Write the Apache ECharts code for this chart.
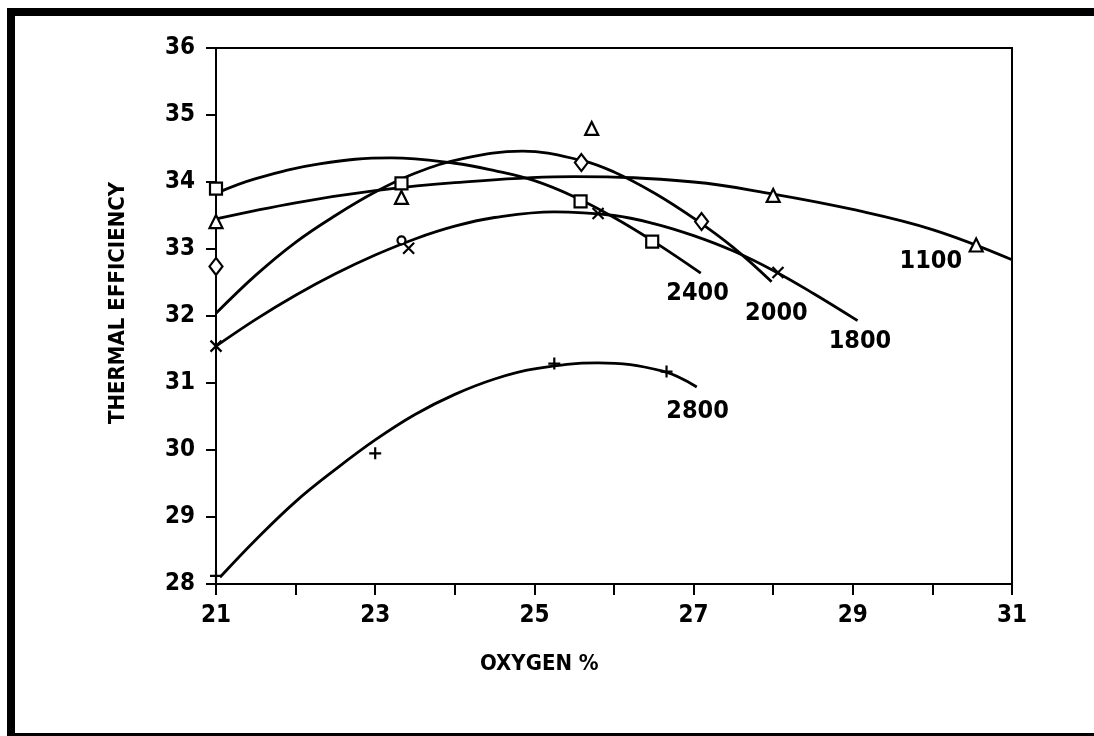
<!DOCTYPE html>
<html>
<head>
<meta charset="utf-8">
<script src="https://cdn.jsdelivr.net/npm/echarts@6/dist/echarts.min.js"></script>
<style>
html,body{margin:0;padding:0;background:#fff;}
#chart{width:1094px;height:736px;}
</style>
</head>
<body>
<div id="chart"></div>
<script>
// ---- data ----
var xTicks = [21, 23, 25, 27, 29, 31];
var yTicks = [28, 29, 30, 31, 32, 33, 34, 35, 36];

// fitted curves [oxygen %, efficiency]
var curve1100 = [[21,33.45],[22,33.69],[23,33.87],[24,33.99],[25.5,34.08],[27,34.0],[28,33.82],[29,33.59],[30,33.29],[31,32.84]];
var curve2400 = [[21,33.83],[21.5,34.05],[22.3,34.27],[23.2,34.36],[24,34.28],[24.5,34.17],[25,34.02],[25.5,33.78],[26,33.47],[26.5,33.11],[27.09,32.64]];
var curve2000 = [[21,32.04],[21.5,32.61],[22,33.1],[22.5,33.5],[23,33.85],[23.5,34.13],[24.1,34.35],[24.85,34.46],[25.6,34.32],[26,34.15],[26.5,33.84],[27,33.46],[27.5,33.02],[27.98,32.51]];
var curve1800 = [[21,31.55],[21.5,31.95],[22,32.31],[22.5,32.63],[23,32.91],[23.5,33.15],[24,33.34],[24.5,33.47],[25.25,33.555],[26,33.5],[26.5,33.38],[27,33.2],[27.5,32.97],[28,32.68],[28.5,32.34],[29.06,31.93]];
var curve2800 = [[21.05,28.1],[21.5,28.66],[22,29.23],[22.5,29.71],[23,30.15],[23.5,30.53],[24,30.83],[24.5,31.06],[25,31.21],[25.8,31.3],[26.6,31.18],[27.04,30.94]];

// measured points
var pts1100 = [[21,33.41],[23.33,33.77],[25.72,34.8],[28.0,33.8],[30.55,33.06]];
var pts2400 = [[21,33.9],[23.33,33.98],[25.58,33.71],[26.48,33.11]];
var pts2000 = [[21,32.74],[25.59,34.29],[27.1,33.41]];
var pts1800 = [[21,31.55],[23.42,33.01],[25.8,33.53],[28.06,32.65]];
var ptsCircle = [[23.33,33.13]];
var pts2800 = [[21,28.12],[23.0,29.95],[25.25,31.29],[26.66,31.17]];

// curve labels [text, x, y]
var curveLabels = [['2400',27.05,32.33],['2000',28.04,32.03],['1800',29.09,31.62],['1100',29.98,32.81],['2800',27.05,30.57]];

var FONT = '"DejaVu Sans Condensed", "Liberation Sans Narrow", "DejaVu Sans", sans-serif';

function curveSeries(d){
  return {type:'line', data:d, smooth:0.4, symbol:'none', z:3,
    lineStyle:{color:'#000', width:2.8}, silent:true};
}
function markerSeries(d, symbol, size){
  return {type:'scatter', data:d, symbol:symbol, symbolSize:size, z:5,
    itemStyle:{color:'#fff', borderColor:'#000', borderWidth:2.2, opacity:1}};
}
var crossPath = 'path://M0,0L10,10M10,0L0,10';
var plusPath = 'path://M5,0L5,10M0,5L10,5';

var chart = echarts.init(document.getElementById('chart'), null, {renderer:'canvas'});
chart.setOption({
  animation:false,
  backgroundColor:'#fff',
  grid:{left:216, right:82, top:48, bottom:152, show:true, borderColor:'#000', borderWidth:2, backgroundColor:'transparent'},
  xAxis:{type:'value', min:21, max:31, interval:1,
    axisLine:{show:true, lineStyle:{color:'#000', width:2}},
    axisTick:{show:true, length:11, lineStyle:{color:'#000', width:2}},
    splitLine:{show:false},
    axisLabel:{margin:20, color:'#000', fontFamily:FONT, fontWeight:'bold', fontSize:24,
      formatter:function(v){ return xTicks.indexOf(v) >= 0 ? String(v) : ''; }}
  },
  yAxis:{type:'value', min:28, max:36, interval:1,
    axisLine:{show:true, lineStyle:{color:'#000', width:2}},
    axisTick:{show:true, length:10, lineStyle:{color:'#000', width:2}},
    splitLine:{show:false},
    axisLabel:{margin:21, color:'#000', fontFamily:FONT, fontWeight:'bold', fontSize:24,
      formatter:function(v){ return yTicks.indexOf(v) >= 0 ? String(v) : ''; }}
  },
  series:[
    curveSeries(curve1100), curveSeries(curve2400), curveSeries(curve2000),
    curveSeries(curve1800), curveSeries(curve2800),
    markerSeries(pts1100, 'triangle', 13),
    markerSeries(pts2400, 'rect', 12),
    markerSeries(pts2000, 'diamond', [13,17]),
    markerSeries(pts1800, crossPath, 11),
    markerSeries(ptsCircle, 'circle', 8),
    markerSeries(pts2800, plusPath, 12),
    {type:'scatter', symbolSize:0, z:6, silent:true,
      itemStyle:{color:'#000'},
      data:curveLabels.map(function(l){ return {value:[l[1], l[2]], name:l[0]}; }),
      label:{show:true, position:'inside', formatter:'{b}', color:'#000', opacity:1,
        textBorderWidth:0, fontFamily:FONT, fontWeight:'bold', fontSize:25}}
  ],
  graphic:[
    {type:'text', left:480, top:653, style:{text:'OXYGEN %', fill:'#000', font:'bold 22px ' + FONT}},
    {type:'text', x:107, y:424, rotation:Math.PI/2, style:{text:'THERMAL EFFICIENCY', fill:'#000', font:'bold 22px ' + FONT}},
    {type:'rect', shape:{x:7, y:8, width:1087, height:8}, style:{fill:'#000'}},
    {type:'rect', shape:{x:7, y:8, width:8, height:728}, style:{fill:'#000'}},
    {type:'rect', shape:{x:7, y:733, width:1087, height:3}, style:{fill:'#000'}}
  ]
});
</script>
</body>
</html>
